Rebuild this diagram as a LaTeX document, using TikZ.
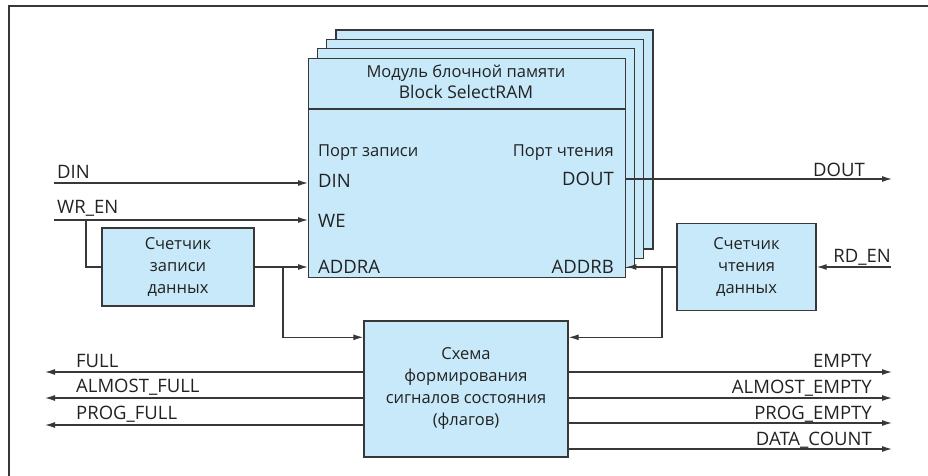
\documentclass[tikz,border=0pt]{standalone}
\usepackage{fontspec}
\setmainfont{Open Sans}
\usetikzlibrary{arrows.meta,calc}
\definecolor{blk}{HTML}{C7E9F9}
\definecolor{ln}{HTML}{383838}
\definecolor{tx}{HTML}{222222}
\begin{document}
\begin{tikzpicture}[x=1pt,y=-1pt,
  font=\fontsize{16.5}{22}\selectfont,
  box/.style={draw=ln, line width=1.4pt, fill=blk, inner sep=0pt, align=center, text=tx},
  layer/.style={draw=ln, line width=1.4pt, fill=blk},
  wire/.style={draw=ln, line width=1.2pt},
  arr/.style={wire, -{Latex[length=10pt,width=6pt]}},
  lbl/.style={inner sep=0pt, text=tx},
  sig/.style={lbl, font=\fontsize{18.5}{22}\selectfont}]
\useasboundingbox (0,0) rectangle (928,476);
% frame
\draw[ln, line width=1.6pt] (9,476) -- (9,6) -- (928,6);
% stacked memory layers
\foreach \i in {3,2,1}
  \draw[layer] (308+9.3*\i, 58-9.3*\i) rectangle (625+9.3*\i, 277-9.3*\i);
\node[box, anchor=north west, minimum width=317pt, minimum height=219pt] (ram) at (308,58) {};
\coordinate (hdr) at (0,109);
\draw[wire, line width=1.4pt] (ram.west |- hdr) -- (ram.east |- hdr);
\node[lbl, anchor=base] (t1) at (466,78) {Модуль блочной памяти};
\node[lbl, anchor=base, font=\fontsize{17.5}{22}\selectfont] (t2) at (466,99) {Block SelectRAM};
\node[lbl, anchor=base west] (pw) at (318,156) {Порт записи};
\node[lbl, anchor=base east] (pr) at (614,156) {Порт чтения};
\node[sig, anchor=base west] (pdin) at (318,187) {DIN};
\node[sig, anchor=base west] (pwe) at (318,227) {WE};
\node[sig, anchor=base west] (paddra) at (318,273) {ADDRA};
\node[sig, anchor=base east] (pdout) at (614,185) {DOUT};
\node[sig, anchor=base east] (paddrb) at (614,273) {ADDRB};
% counters and flags
\node[box, minimum width=152pt, minimum height=78pt] (wcnt) at (178,267) {Счетчик\\записи\\данных};
\node[box, minimum width=139pt, minimum height=87pt] (rcnt) at (746.5,267) {Счетчик\\чтения\\данных};
\node[box, minimum width=204pt, minimum height=136pt] (flags) at (466,389) {Схема\\формирования\\сигналов состояния\\(флагов)};
% inputs
\coordinate (dinS) at (54,183);
\coordinate (wrS) at (54,220);
\coordinate (wrJ) at (86,220);
\draw[arr] (dinS) -- (dinS -| ram.west);
\draw[arr] (wrS) -- (wrS -| ram.west);
\draw[wire] (wrJ) |- (wcnt.west);
\node[sig, anchor=base west] (ldin) at (57,178) {DIN};
\node[sig, anchor=base west] (lwr) at (57,213) {WR\_EN};
\draw[arr] (wcnt.east) -- (wcnt.east -| ram.west);
\coordinate (aJ) at (283,267);
\draw[arr] (aJ) |- ([yshift=-17pt]flags.north west);
% read side
\coordinate (doutE) at (892,179);
\draw[arr] (ram.east |- doutE) -- (doutE);
\node[sig, anchor=base east] (ldout) at (865,176) {DOUT};
\coordinate (rdS) at (891,267);
\draw[arr] (rdS) -- (rcnt.east);
\node[sig, anchor=base east] (lrd) at (891,262) {RD\_EN};
\draw[arr] (rcnt.west) -- (rcnt.west -| ram.east);
\coordinate (bJ) at (662,267);
\draw[arr] (bJ) |- ([yshift=-17pt]flags.north east);
% flag outputs left
\coordinate (o1) at (45,372);
\coordinate (o2) at (45,398);
\coordinate (o3) at (45,425);
\draw[arr] (o1 -| flags.west) -- (o1);
\draw[arr] (o2 -| flags.west) -- (o2);
\draw[arr] (o3 -| flags.west) -- (o3);
\node[sig, anchor=base west] (lfull) at (76,367) {FULL};
\node[sig, anchor=base west] (lafull) at (76,392) {ALMOST\_FULL};
\node[sig, anchor=base west] (lpfull) at (76,419) {PROG\_FULL};
% flag outputs right
\coordinate (e1) at (892,372);
\coordinate (e2) at (892,398);
\coordinate (e3) at (892,423);
\coordinate (e4) at (892,449);
\draw[arr] (e1 -| flags.east) -- (e1);
\draw[arr] (e2 -| flags.east) -- (e2);
\draw[arr] (e3 -| flags.east) -- (e3);
\draw[arr] (e4 -| flags.east) -- (e4);
\node[sig, anchor=base east] (lempty) at (872,367) {EMPTY};
\node[sig, anchor=base east] (laempty) at (872,393) {ALMOST\_EMPTY};
\node[sig, anchor=base east] (lpempty) at (872,419) {PROG\_EMPTY};
\node[sig, anchor=base east] (ldc) at (872,445) {DATA\_COUNT};
\end{tikzpicture}
\end{document}
